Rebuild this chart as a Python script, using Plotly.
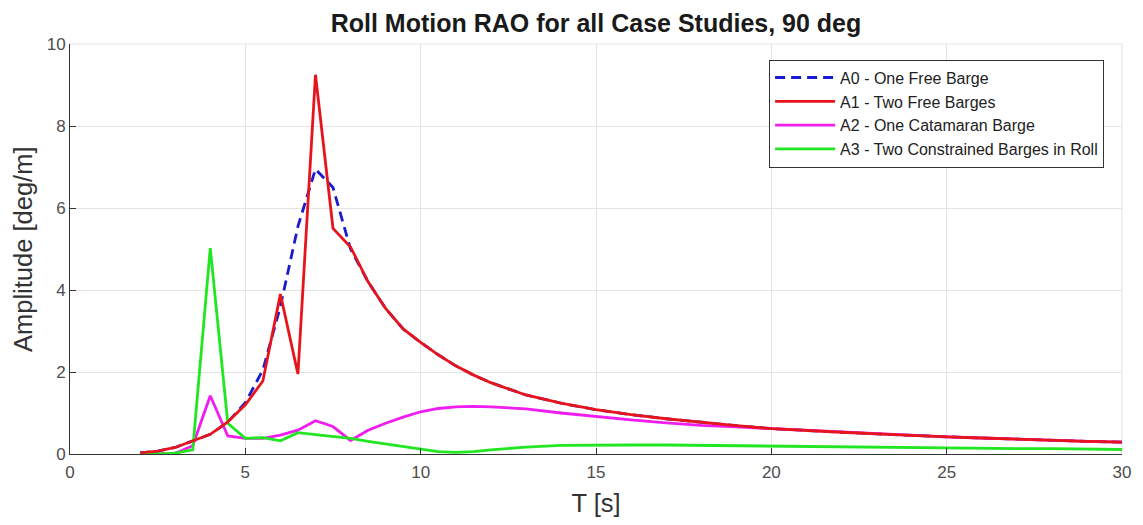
import plotly.graph_objects as go

# Wave period [s]
period = [2, 2.5, 3, 3.5, 4, 4.5, 5, 5.5, 6, 6.5, 7, 7.5, 8, 8.5, 9, 9.5, 10, 10.5,
          11, 11.5, 12, 13, 14, 15, 16, 17, 18, 19, 20, 21, 22, 23, 24, 25, 26, 27,
          28, 29, 30]

# Roll RAO amplitudes [deg/m]
a0_one_free = [0.03, 0.07, 0.16, 0.32, 0.48, 0.78, 1.25, 2.05, 3.6, 5.55, 6.95, 6.5,
               5.0, 4.2, 3.55, 3.05, 2.72, 2.42, 2.15, 1.93, 1.74, 1.44, 1.24, 1.08,
               0.96, 0.86, 0.77, 0.69, 0.62, 0.57, 0.53, 0.49, 0.45, 0.42, 0.39,
               0.36, 0.34, 0.31, 0.29]
a1_two_free = [0.03, 0.07, 0.16, 0.32, 0.48, 0.78, 1.2, 1.78, 3.9, 1.95, 9.25, 5.5,
               5.05, 4.2, 3.55, 3.05, 2.72, 2.42, 2.15, 1.93, 1.74, 1.44, 1.24, 1.08,
               0.96, 0.86, 0.77, 0.69, 0.62, 0.57, 0.53, 0.49, 0.45, 0.42, 0.39,
               0.36, 0.34, 0.31, 0.29]
a2_catamaran = [0.0, 0.0, 0.02, 0.2, 1.42, 0.44, 0.38, 0.38, 0.46, 0.58, 0.81, 0.67,
                0.33, 0.58, 0.75, 0.9, 1.03, 1.11, 1.15, 1.16, 1.15, 1.1, 1.0, 0.91,
                0.83, 0.76, 0.7, 0.66, 0.62, 0.58, 0.53, 0.49, 0.45, 0.42, 0.39,
                0.36, 0.34, 0.31, 0.29]
a3_constrained = [0.0, 0.0, 0.02, 0.1, 5.02, 0.75, 0.38, 0.4, 0.32, 0.52, 0.47, 0.43,
                  0.38, 0.31, 0.25, 0.19, 0.13, 0.06, 0.04, 0.06, 0.1, 0.17, 0.21,
                  0.22, 0.22, 0.22, 0.21, 0.2, 0.19, 0.18, 0.17, 0.16, 0.16, 0.15,
                  0.14, 0.13, 0.13, 0.12, 0.11]

x_ticks = [0, 5, 10, 15, 20, 25, 30]
y_ticks = [0, 2, 4, 6, 8, 10]

FONT = "Liberation Sans, Arial, Helvetica, sans-serif"
LW = 2.8

fig = go.Figure()
fig.add_trace(go.Scatter(x=period, y=a0_one_free, mode="lines",
                         name="A0 - One Free Barge", legendrank=1,
                         line=dict(color="#1a1ad0", width=LW, dash="10px,6px")))
fig.add_trace(go.Scatter(x=period, y=a2_catamaran, mode="lines",
                         name="A2 - One Catamaran Barge", legendrank=3,
                         line=dict(color="#f01cf0", width=LW)))
fig.add_trace(go.Scatter(x=period, y=a3_constrained, mode="lines",
                         name="A3 - Two Constrained Barges in Roll", legendrank=4,
                         line=dict(color="#22e622", width=LW)))
# A1 drawn last so the solid red line sits on top where it coincides with A0
fig.add_trace(go.Scatter(x=period, y=a1_two_free, mode="lines",
                         name="A1 - Two Free Barges", legendrank=2,
                         line=dict(color="#e8141c", width=LW)))

fig.update_layout(
    width=1143, height=525,
    margin=dict(l=70, r=16, t=44, b=71),
    paper_bgcolor="white", plot_bgcolor="white",
    font=dict(family=FONT, color="#4a4a4a"),
    title=dict(text="<b>Roll Motion RAO for all Case Studies, 90 deg</b>",
               x=0.5, xref="paper", xanchor="center",
               y=1 - 23 / 525, yref="container", yanchor="middle",
               font=dict(family=FONT, size=25, color="#1a1a1a")),
    showlegend=True,
    legend=dict(x=0.983, y=0.962, xanchor="right", yanchor="top",
                bgcolor="white", bordercolor="#333333", borderwidth=1,
                font=dict(family=FONT, size=16, color="#222222"),
                tracegroupgap=0, itemwidth=60),
)

fig.update_xaxes(range=[0, 30], tickvals=x_ticks, ticktext=[str(v) for v in x_ticks],
                 showgrid=True, gridcolor="#e3e3e3", gridwidth=1,
                 zeroline=False, showline=True, linecolor="#333333", linewidth=1,
                 ticks="inside", ticklen=6, tickcolor="#333333",
                 tickfont=dict(size=17, color="#4d4d4d"), ticklabelstandoff=3,
                 title=dict(text="T [s]", font=dict(size=25.5, color="#333333"),
                            standoff=12))
fig.update_yaxes(range=[0, 10], tickvals=y_ticks, ticktext=[str(v) for v in y_ticks],
                 showgrid=True, gridcolor="#e3e3e3", gridwidth=1,
                 zeroline=False, showline=True, linecolor="#333333", linewidth=1,
                 ticks="inside", ticklen=6, tickcolor="#333333",
                 tickfont=dict(size=17, color="#4d4d4d"))

# Y-axis label
fig.add_annotation(text="Amplitude [deg/m]", textangle=-90,
                   xref="paper", yref="paper", x=0, y=0.5,
                   xanchor="center", yanchor="middle", xshift=-47, showarrow=False,
                   font=dict(family=FONT, size=25.5, color="#333333"))

# Light frame on the top and right edges of the axes box
fig.add_shape(type="line", xref="paper", yref="paper", x0=0, x1=1, y0=1, y1=1,
              line=dict(color="#e3e3e3", width=1), layer="below")
fig.add_shape(type="line", xref="paper", yref="paper", x0=1, x1=1, y0=0, y1=1,
              line=dict(color="#e3e3e3", width=1), layer="below")

fig.write_html("out.html")
